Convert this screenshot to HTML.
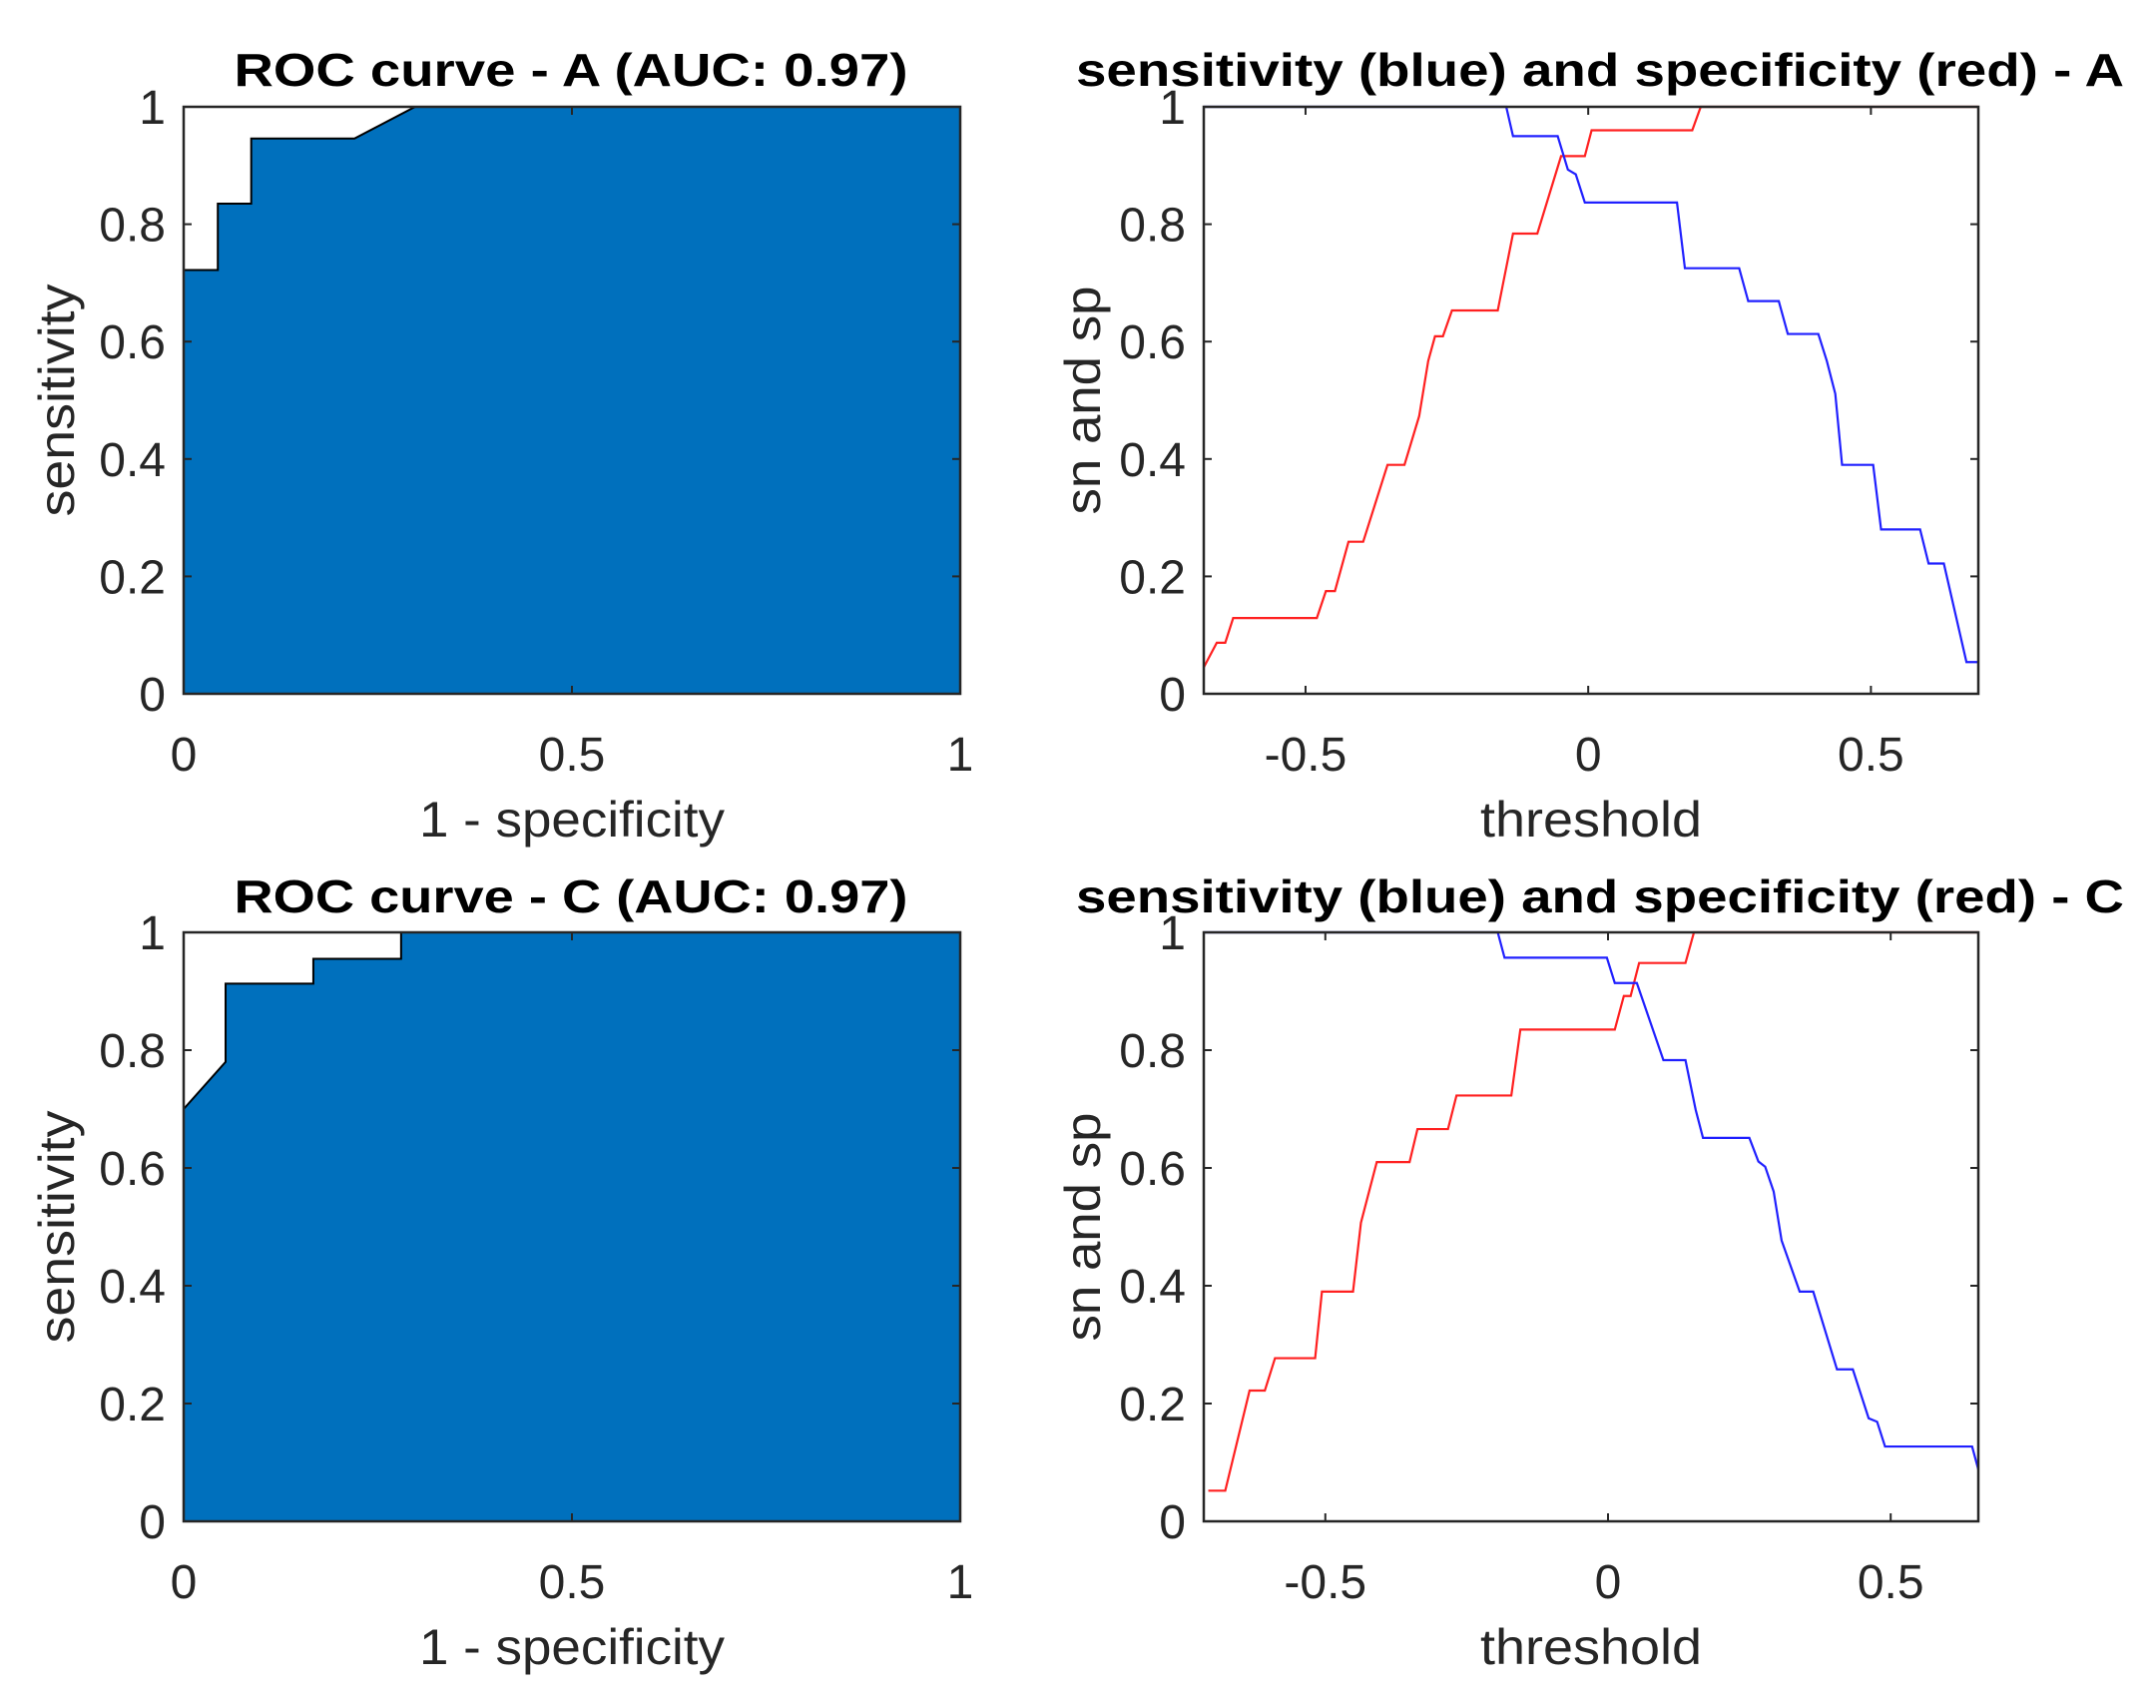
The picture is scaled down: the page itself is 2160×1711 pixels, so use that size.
<!DOCTYPE html>
<html><head><meta charset="utf-8"><style>
html,body{margin:0;padding:0;background:#fff;}
svg{display:block;font-family:"Liberation Sans",Arial,sans-serif;}
</style></head><body>
<svg id="fig" width="2160" height="1711" viewBox="0 0 2160 1711" xmlns="http://www.w3.org/2000/svg"></svg>
<script>
// ROC A
const rocAFpr = [0,0,0.044,0.044,0.087,0.087,0.22,0.298,1,1];
const rocATpr = [0,0.722,0.722,0.835,0.835,0.946,0.946,1,1,0];
// ROC C
const rocCFpr = [0,0,0.054,0.054,0.167,0.167,0.28,0.28,1,1];
const rocCTpr = [0,0.7,0.78,0.913,0.913,0.955,0.955,1,1,0];
// Sn/Sp A
const spAx = [-0.68,-0.657,-0.642,-0.628,-0.48,-0.464,-0.448,-0.424,-0.398,-0.355,-0.325,-0.299,-0.283,-0.271,-0.257,-0.241,-0.16,-0.151,-0.133,-0.09,-0.048,-0.006,0.006,0.184,0.199,0.69];
const spAy = [0.045,0.087,0.087,0.129,0.129,0.175,0.175,0.259,0.259,0.39,0.39,0.473,0.567,0.609,0.609,0.653,0.653,0.697,0.784,0.784,0.916,0.916,0.96,0.96,1,1];
const snAx = [-0.68,-0.145,-0.133,-0.054,-0.036,-0.022,-0.006,0.157,0.171,0.267,0.283,0.337,0.353,0.407,0.422,0.437,0.449,0.504,0.518,0.587,0.602,0.629,0.669,0.69];
const snAy = [1,1,0.95,0.95,0.893,0.885,0.837,0.837,0.725,0.725,0.669,0.669,0.613,0.613,0.567,0.511,0.39,0.39,0.28,0.28,0.222,0.222,0.054,0.054];
// Sn/Sp C
const spCx = [-0.707,-0.677,-0.634,-0.607,-0.589,-0.518,-0.506,-0.451,-0.437,-0.409,-0.351,-0.337,-0.283,-0.268,-0.171,-0.155,0.012,0.028,0.04,0.055,0.137,0.152,0.655];
const spCy = [0.052,0.052,0.222,0.222,0.277,0.277,0.39,0.39,0.507,0.61,0.61,0.666,0.666,0.723,0.723,0.835,0.835,0.892,0.892,0.948,0.948,1,1];
const snCx = [-0.715,-0.195,-0.183,-0.002,0.012,0.051,0.098,0.137,0.155,0.168,0.25,0.266,0.278,0.293,0.307,0.339,0.363,0.405,0.433,0.461,0.476,0.49,0.644,0.655];
const snCy = [1,1,0.957,0.957,0.914,0.914,0.783,0.783,0.699,0.651,0.651,0.611,0.602,0.56,0.477,0.39,0.39,0.258,0.258,0.175,0.169,0.127,0.127,0.088];
const rocXTicks = [0,0.5,1];
const rocXTickLabels = ["0","0.5","1"];
const yTicks = [0,0.2,0.4,0.6,0.8,1];
const yTickLabels = ["0","0.2","0.4","0.6","0.8","1"];
const thrTicks = [-0.5,0,0.5];
const thrTickLabels = ["-0.5","0","0.5"];

const NS="http://www.w3.org/2000/svg";
const svg=document.getElementById('fig');
function mk(tag,attrs,parent){const e=document.createElementNS(NS,tag);for(const k in attrs)e.setAttribute(k,attrs[k]);(parent||svg).appendChild(e);return e;}

function panel(o){
  const g=mk('g',{});
  
  
  const sx=v=>o.x0+(v-o.xmin)/(o.xmax-o.xmin)*(o.x1-o.x0);
  const sy=v=>o.y1-(v-0)/(1-0)*(o.y1-o.y0);
  o.draw(g,sx,sy);
  const box=mk('rect',{x:o.x0,y:o.y0,width:o.x1-o.x0,height:o.y1-o.y0,fill:'none',stroke:'#262626','stroke-width':2.5},g);
  
  
  o.xt.forEach((t,i)=>{
    const x=sx(t);
    mk('line',{x1:x,x2:x,y1:o.y1,y2:o.y1-8,stroke:'#262626','stroke-width':2},g);
    mk('line',{x1:x,x2:x,y1:o.y0,y2:o.y0+8,stroke:'#262626','stroke-width':2},g);
    const tx=mk('text',{x:x,y:o.y1+77,'font-size':48,fill:'#262626','text-anchor':'middle'},g);
    tx.textContent=o.xl[i];
    
    
  });
  yTicks.forEach((t,i)=>{
    const y=sy(t);
    mk('line',{x1:o.x0,x2:o.x0+8,y1:y,y2:y,stroke:'#262626','stroke-width':2},g);
    mk('line',{x1:o.x1,x2:o.x1-8,y1:y,y2:y,stroke:'#262626','stroke-width':2},g);
    const tx=mk('text',{x:o.x0-18,y:y+17,'font-size':48,fill:'#262626','text-anchor':'end'},g);
    tx.textContent=yTickLabels[i];
    
    
  });
  const tt=mk('text',{x:o.tx,y:o.ty,'font-size':46,'font-weight':'bold',fill:'#000','text-anchor':'middle',textLength:o.tlen,lengthAdjust:'spacingAndGlyphs'},g);
  tt.textContent=o.title;
  
  
  const xl=mk('text',{x:(o.x0+o.x1)/2,y:o.y1+143,'font-size':50,fill:'#262626','text-anchor':'middle',textLength:o.xlen,lengthAdjust:'spacingAndGlyphs'},g);
  xl.textContent=o.xlabel;
  
  
  const cy=(o.y0+o.y1)/2;
  const yl=mk('text',{x:o.ylx,y:cy,'font-size':50,fill:'#262626','text-anchor':'middle',textLength:o.ylen,lengthAdjust:'spacingAndGlyphs',transform:`rotate(-90 ${o.ylx} ${cy})`},g);
  yl.textContent=o.ylabel;
  
  
}
function roc(fpr,tpr){return (g,sx,sy)=>{
  const pts=fpr.map((v,i)=>sx(v)+','+sy(tpr[i])).join(' ');
  const p=mk('polygon',{points:pts,fill:'#0070BD',stroke:'#000','stroke-width':2},g);
  
  
};}
function lines(a){return (g,sx,sy)=>{
  a.forEach(s=>{
    const pts=s.x.map((v,i)=>sx(v)+','+sy(s.y[i])).join(' ');
    const p=mk('polyline',{points:pts,fill:'none',stroke:s.c,'stroke-width':2.2},g);
    
    
  });
};}

panel({name:'roc-panel-a',x0:184,x1:962,y0:107,y1:695,xmin:0,xmax:1,xt:rocXTicks,xl:rocXTickLabels,
  title:'ROC curve - A (AUC: 0.97)',tx:572,ty:86,tlen:675,xlabel:'1 - specificity',xlen:306,ylabel:'sensitivity',ylen:233,ylx:74,
  draw:roc(rocAFpr,rocATpr)});
panel({name:'sn-sp-panel-a',x0:1206,x1:1982,y0:107,y1:695,xmin:-0.68,xmax:0.69,xt:thrTicks,xl:thrTickLabels,
  title:'sensitivity (blue) and specificity (red) - A',tx:1603,ty:86,tlen:1050,xlabel:'threshold',xlen:222,ylabel:'sn and sp',ylen:229,ylx:1102,
  draw:lines([{x:spAx,y:spAy,c:'#ff2020',n:'specificity-line'},{x:snAx,y:snAy,c:'#2020ff',n:'sensitivity-line'}])});
panel({name:'roc-panel-c',x0:184,x1:962,y0:934,y1:1524,xmin:0,xmax:1,xt:rocXTicks,xl:rocXTickLabels,
  title:'ROC curve - C (AUC: 0.97)',tx:572,ty:914,tlen:675,xlabel:'1 - specificity',xlen:306,ylabel:'sensitivity',ylen:233,ylx:74,
  draw:roc(rocCFpr,rocCTpr)});
panel({name:'sn-sp-panel-c',x0:1206,x1:1982,y0:934,y1:1524,xmin:-0.715,xmax:0.655,xt:thrTicks,xl:thrTickLabels,
  title:'sensitivity (blue) and specificity (red) - C',tx:1603,ty:914,tlen:1050,xlabel:'threshold',xlen:222,ylabel:'sn and sp',ylen:229,ylx:1102,
  draw:lines([{x:spCx,y:spCy,c:'#ff2020',n:'specificity-line'},{x:snCx,y:snCy,c:'#2020ff',n:'sensitivity-line'}])});
</script>
</body></html>
